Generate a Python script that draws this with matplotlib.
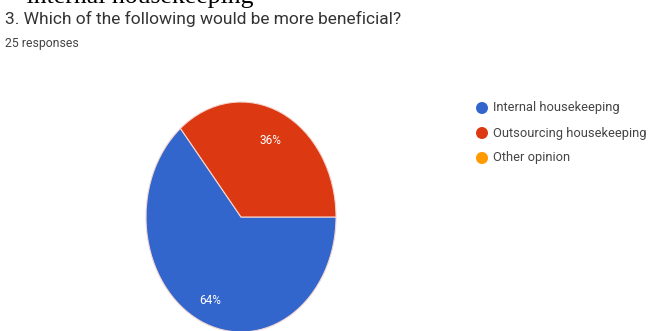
import matplotlib
matplotlib.use("Agg")
import matplotlib.pyplot as plt

# survey answers (25 responses)
categories = ["Internal housekeeping", "Outsourcing housekeeping", "Other opinion"]
shares = [64, 36, 0]
colors = ["#3366CC", "#DC3912", "#FF9900"]
title = "3. Which of the following would be more beneficial?"
subtitle = "25 responses"
cut_heading = "-internal housekeeping"

W, H = 659, 331
fig = plt.figure(figsize=(W / 100, H / 100), dpi=100)
fig.patch.set_facecolor("white")

# pie is drawn slightly squashed (ellipse), as in the screenshot
cx, cy, rx, ry = 241, 217, 95, 115
ax = fig.add_axes([(cx - rx) / W, (H - cy - ry) / H, 2 * rx / W, 2 * ry / H])
vals = [v for v in shares if v > 0]
cols = [c for v, c in zip(shares, colors) if v > 0]
wedges, _ = ax.pie(vals, colors=cols, startangle=0, counterclock=False,
                   wedgeprops=dict(edgecolor="#f3d6cf", linewidth=0.8))
ax.set_xlim(-1, 1); ax.set_ylim(-1, 1); ax.set_aspect("auto"); ax.axis("off")

# percent labels, placed in figure pixels
lab_pos = [(210, 300), (270, 140)]
for (px, py), v in zip(lab_pos, vals):
    fig.text(px / W, 1 - py / H, f"{v}%", color="white", fontsize=8.5,
             ha="center", va="center", family="Roboto")

# headings (the first one is cut off by the screenshot's top edge)
fig.text(18 / W, 1 - 3 / H, cut_heading, family="Liberation Serif", fontsize=18.5,
         color="black", ha="left", va="baseline")
fig.text(5 / W, 1 - 19 / H, title, family="Roboto", fontsize=12.5, color="#333333",
         ha="left", va="center")
fig.text(5 / W, 1 - 43 / H, subtitle, family="Roboto", fontsize=8.8, color="#444444",
         ha="left", va="center")

# legend
for i, (name, c) in enumerate(zip(categories, colors)):
    y = 1 - (108 + 25 * i) / H
    fig.patches.append(matplotlib.patches.Ellipse((482 / W, y), 12 / W, 12 / H,
                                                  transform=fig.transFigure,
                                                  facecolor=c, edgecolor="none"))
    fig.text(493 / W, y, name, family="Roboto", fontsize=9.3, color="#444444",
             ha="left", va="center")

fig.savefig("out.png", dpi=100)
